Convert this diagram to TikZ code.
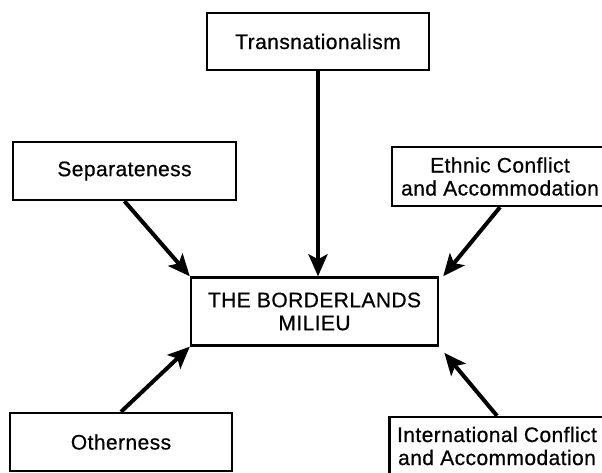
\documentclass[tikz,border=0pt]{standalone}
\usepackage{fontspec}
\setmainfont[LetterSpace=2,FakeBold=0.6]{Liberation Sans}
\usetikzlibrary{arrows.meta}
\tikzset{
  box/.style={draw, line width=2.4pt, align=center, inner sep=0pt, font=\fontsize{21}{23}\selectfont},
  feed/.style={line width=4pt, -{Stealth[length=22pt,width=19pt,inset=5pt]}}
}
\begin{document}
\begin{tikzpicture}[x=1pt,y=1pt,yscale=-1,xscale=1]
%set diagram to the size of the page
\useasboundingbox (0,0) rectangle (602,472);

% Text Node
\node [box, minimum width=222pt, minimum height=57pt] (trans) at (318,41.5) {Transnationalism};
% Text Node
\node [box, minimum width=223pt, minimum height=58pt] (sep) at (124.5,171) {Separateness};
% Text Node
\node [box, minimum width=216pt, minimum height=59pt] (ethnic) at (500,176.5) {Ethnic Conflict\\and Accommodation};
% Text Node
\node [box, minimum width=247pt, minimum height=68pt] (milieu) at (314.5,311.5) {THE BORDERLANDS\\MILIEU};
% Text Node
\node [box, minimum width=222pt, minimum height=58pt] (other) at (121,442) {Otherness};
% Text Node
\node [box, minimum width=215pt, minimum height=58pt] (intl) at (497,446) {International Conflict\\and Accommodation};

%Straight Lines
\draw [feed] (trans.south) -- (trans.south |- milieu.north);
\draw [feed] (sep.south) -- (milieu.north west);
\draw [feed] (ethnic.south) -- ([xshift=4pt]milieu.north east);
\draw [feed] (other.north) -- (milieu.south west);
\draw [feed, shorten >=8pt] (intl.north) -- (milieu.south east);

\end{tikzpicture}
\end{document}
